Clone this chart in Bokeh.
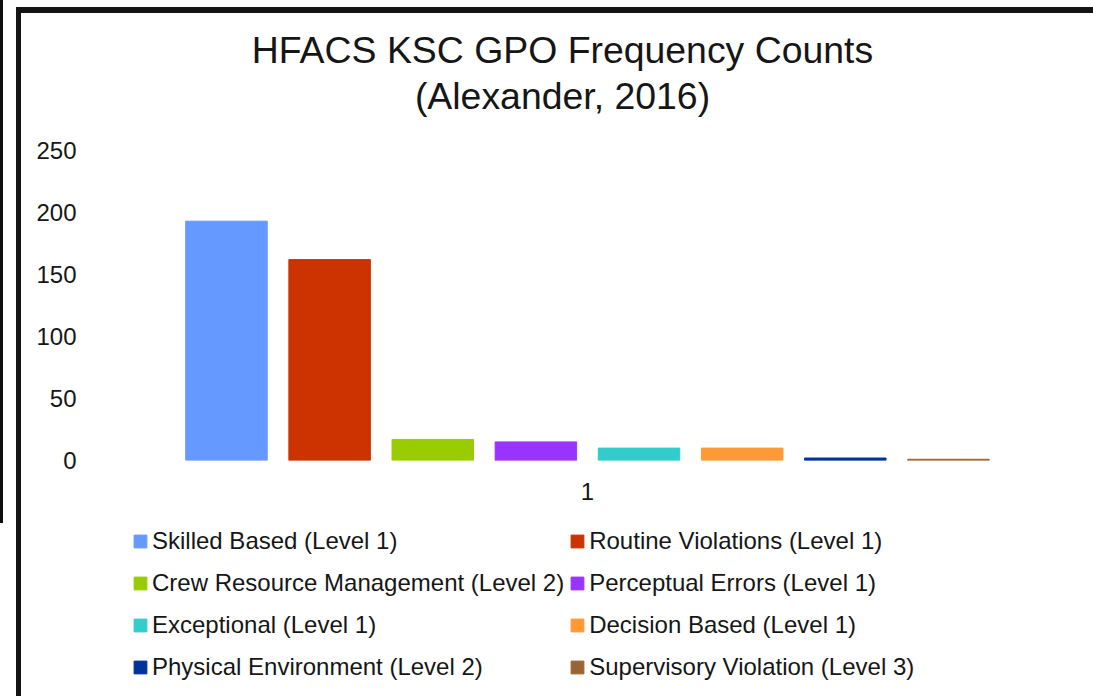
from bokeh.plotting import figure
from bokeh.layouts import column
from bokeh.models import ColumnDataSource, Legend, LegendItem, FixedTicker, Title
from bokeh.embed import file_html
from bokeh.resources import INLINE

# ---- data ----
categories = ["1"]
series = [
    "Skilled Based (Level 1)",
    "Routine Violations (Level 1)",
    "Crew Resource Management (Level 2)",
    "Perceptual Errors (Level 1)",
    "Exceptional (Level 1)",
    "Decision Based (Level 1)",
    "Physical Environment (Level 2)",
    "Supervisory Violation (Level 3)",
]
counts = [193, 162, 17, 15, 10, 10, 2, 1]
colors = ["#6699FF", "#CC3300", "#99CC00", "#9933FF", "#33CCCC", "#FF9933", "#003399", "#996633"]
y_ticks = [0, 50, 100, 150, 200, 250]
title_lines = ["HFACS KSC GPO Frequency Counts", "(Alexander, 2016)"]

FONT = "Liberation Sans"
TXT = "#161616"
W = 1072
H_CHART, H_LEG = 500, 183

xs = list(range(len(series)))
src = ColumnDataSource(dict(x=xs, top=counts, color=colors, label=series))

# ---------------- chart ----------------
p = figure(
    width=W, height=H_CHART, output_backend="svg", toolbar_location=None, title=None,
    x_range=(-1.357, 7.873), y_range=(0, 250),
    min_border_left=65, min_border_right=55, min_border_top=137, min_border_bottom=53,
)
p.background_fill_color = "white"
p.border_fill_color = "white"
p.outline_line_color = None
p.xgrid.visible = False
p.ygrid.visible = False
r = p.vbar(x="x", top="top", width=0.79, color="color", source=src)

p.yaxis.ticker = FixedTicker(ticks=y_ticks)
p.xaxis.ticker = FixedTicker(ticks=[(len(series) - 1) / 2])
p.xaxis.major_label_overrides = {(len(series) - 1) / 2: categories[0]}
for ax in (p.xaxis[0], p.yaxis[0]):
    ax.axis_line_color = None
    ax.major_tick_line_color = None
    ax.minor_tick_line_color = None
    ax.major_tick_out = 0
    ax.major_tick_in = 0
    ax.major_label_text_font = FONT
    ax.major_label_text_font_size = "24px"
    ax.major_label_text_color = TXT
p.yaxis.major_label_standoff = 10
p.xaxis.major_label_standoff = 22

# titles, stacked from the frame outward: spacer, line 2, line 1
p.add_layout(Title(text=" ", text_font_size="10px", standoff=20), "above")
for line in (title_lines[1], title_lines[0]):
    p.add_layout(Title(text=line, align="center", text_font=FONT, text_font_size="37.4px",
                       text_font_style="normal", text_color=TXT, standoff=2), "above")

# ---------------- legend strip ----------------
q = figure(
    width=W, height=H_LEG, output_backend="svg", toolbar_location=None,
    x_range=(100, 101), y_range=(1000, 1001), x_axis_location=None, y_axis_location=None,
    min_border_left=0, min_border_right=0, min_border_top=0, min_border_bottom=0,
)
q.outline_line_color = None
q.xgrid.visible = False
q.ygrid.visible = False
q.background_fill_color = "white"
q.border_fill_color = "white"
lr = q.vbar(x="x", top="top", width=0.79, color="color", source=src)

items = [LegendItem(label=s, renderers=[lr], index=i) for i, s in enumerate(series)]
legend = Legend(
    items=items, location=(46, 11), orientation="horizontal", ncols=2,
    label_text_font=FONT, label_text_font_size="24px", label_text_color=TXT,
    glyph_width=16, glyph_height=16, label_standoff=4, spacing=5, label_height=37,
    padding=0, margin=0, border_line_color=None, background_fill_alpha=0,
)
q.add_layout(legend)

layout = column(
    p, q, spacing=0,
    styles={"border-left": "5px solid #141414", "border-top": "6px solid #141414",
            "margin-left": "16px", "margin-top": "7px", "box-sizing": "content-box",
            "box-shadow": "-1007px -90px 0 -83px #0b0f10"},
)

open("out.html", "w").write(file_html(layout, INLINE))
